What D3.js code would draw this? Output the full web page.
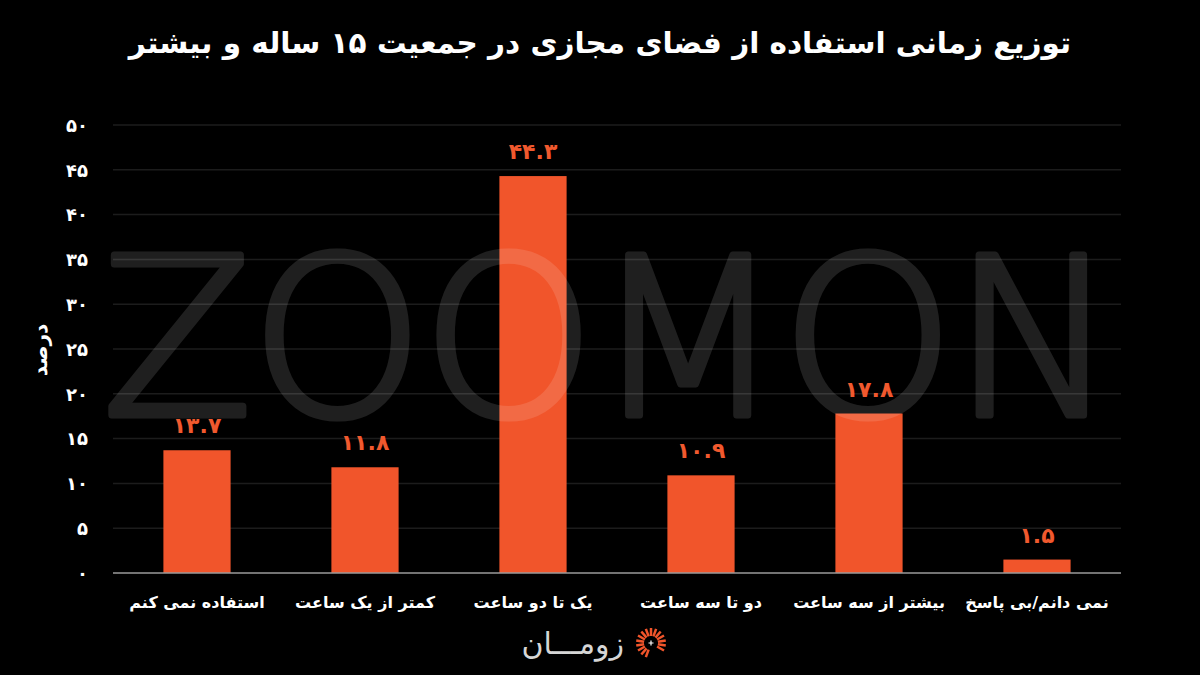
<!DOCTYPE html>
<html><head><meta charset="utf-8">
<script src="https://cdn.jsdelivr.net/npm/d3@7"></script>
<style>
html,body{margin:0;padding:0;background:#000;}
svg{display:block;}
text{font-family:"DejaVu Sans","Noto Sans",sans-serif;}
</style></head>
<body>
<svg id="chart" width="1200" height="675"></svg>
<script>
const title = "توزیع زمانی استفاده از فضای مجازی در جمعیت ۱۵ ساله و بیشتر";
const categories = ["استفاده نمی کنم","کمتر از یک ساعت","یک تا دو ساعت","دو تا سه ساعت","بیشتر از سه ساعت","نمی دانم/بی پاسخ"];
const values = [13.7, 11.8, 44.3, 10.9, 17.8, 1.5];
const yTicks = [0,5,10,15,20,25,30,35,40,45,50];
const yLabel = "درصد";
const watermark = "ZOOMON";
const brand = "زومـــان";

const fa = s => String(s).replace(/[0-9]/g, d => "۰۱۲۳۴۵۶۷۸۹"[+d]);

const svg = d3.select("#chart");
svg.append("rect").attr("width",1200).attr("height",675).attr("fill","#000");

const x = d3.scaleBand().domain(categories).range([113,1121]).paddingInner(0.6).paddingOuter(0.3);
const y = d3.scaleLinear().domain([0,50]).range([573,125]);

// gridlines
svg.append("g").selectAll("line").data(yTicks.filter(t=>t>0)).join("line")
  .attr("x1",113).attr("x2",1121).attr("y1",d=>y(d)).attr("y2",d=>y(d))
  .attr("stroke","#1c1c1c").attr("stroke-width",1.5);

// y axis labels
const yAxis = d3.axisLeft(y).tickValues(yTicks).tickFormat(fa).tickSize(0).tickPadding(0);
const gy = svg.append("g").attr("transform","translate(88,0)").call(yAxis);
gy.select(".domain").remove();
gy.selectAll("text").attr("fill","#fff").attr("font-size",18).attr("font-weight","bold").attr("dy","0.35em").attr("x",0);

// bars
svg.append("g").selectAll("rect").data(values).join("rect")
  .attr("x",(d,i)=>x(categories[i])).attr("width",x.bandwidth())
  .attr("y",d=>y(d)).attr("height",d=>y(0)-y(d)).attr("fill","#f1552b");

// baseline
svg.append("line").attr("x1",113).attr("x2",1121).attr("y1",y(0)).attr("y2",y(0))
  .attr("stroke","#9a9a9a").attr("stroke-width",1.5);

// value labels
svg.append("g").selectAll("text").data(values).join("text")
  .attr("x",(d,i)=>x(categories[i])+x.bandwidth()/2).attr("y",d=>y(d)-17)
  .attr("text-anchor","middle").attr("fill","#f1592e").attr("font-size",22).attr("font-weight","bold")
  .text(d=>fa(d.toFixed(1)));

// category labels
const xAxis = d3.axisBottom(x).tickSize(0).tickPadding(0);
const gx = svg.append("g").attr("transform","translate(0,602)").call(xAxis);
gx.select(".domain").remove();
gx.selectAll("text").attr("fill","#fff").attr("font-size",16).attr("font-weight","bold").attr("dy","0.35em").attr("y",0);

// y label
svg.append("text").attr("transform","translate(40,350) rotate(-90)")
  .attr("text-anchor","middle").attr("dy","0.35em").attr("fill","#fff").attr("font-size",20).attr("font-weight","bold")
  .text(yLabel);

// title
svg.append("text").attr("x",600).attr("y",53).attr("text-anchor","middle")
  .attr("fill","#fff").attr("font-size",29.5).attr("font-weight","bold").text(title);

// watermark
svg.append("g").attr("opacity",0.12).append("text")
  .attr("x",102).attr("y",415).attr("textLength",1015).attr("lengthAdjust","spacing")
  .attr("font-family","'Open Sans', Lato, sans-serif").attr("font-weight",300).attr("font-size",220)
  .attr("fill","#fff").attr("stroke","#fff").attr("stroke-width",7).attr("stroke-linejoin","round")
  .text(watermark);

// brand logo
svg.append("text").attr("x",624).attr("y",654).attr("text-anchor","end")
  .attr("fill","#d6d6d6").attr("font-size",30).attr("font-weight","normal").text(brand);
const logo = svg.append("g").attr("transform","translate(651,643)");
const rays = d3.range(0,300,20);
logo.selectAll("line").data(rays).join("line")
  .attr("x1",d=>7*Math.cos((d+110)*Math.PI/180)).attr("y1",d=>7*Math.sin((d+110)*Math.PI/180))
  .attr("x2",d=>15*Math.cos((d+110)*Math.PI/180)).attr("y2",d=>15*Math.sin((d+110)*Math.PI/180))
  .attr("stroke","#f1552b").attr("stroke-width",2.5);
logo.append("path").attr("d","M-2.5,0H2.5M0,-2.5V2.5").attr("stroke","#fff").attr("stroke-width",1.2);
</script>
</body></html>
